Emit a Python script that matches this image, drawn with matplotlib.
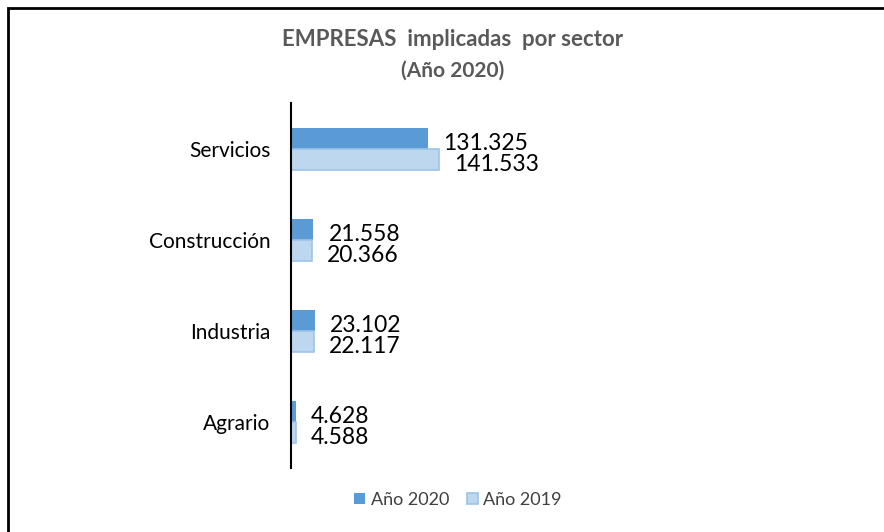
import matplotlib.pyplot as plt
from matplotlib.patches import Rectangle
import numpy as np

sectors = ["Servicios", "Construcción", "Industria", "Agrario"]
values_2020 = [131325, 21558, 23102, 4628]
values_2019 = [141533, 20366, 22117, 4588]
series_labels = ["Año 2020", "Año 2019"]

COLOR_2020 = "#5B9BD5"
COLOR_2019 = "#BDD7EE"
EDGE_2019 = "#9DC3E6"
FONT = ["Lato", "DejaVu Sans"]


def fmt(v):
    return f"{v:,}".replace(",", ".")


W, H = 884, 532
fig = plt.figure(figsize=(W / 100, H / 100), dpi=100)
plt.rcParams["font.family"] = FONT

# outer frame (only left and top visible in the reference)
fig.patches.append(Rectangle((8 / W, -0.1), 2, (H - 8) / H + 0.1, transform=fig.transFigure,
                             fill=False, edgecolor="black", linewidth=2))

ax_left, ax_right = 291, 860
ax_top, ax_bot = 103, 468
ax = fig.add_axes([ax_left / W, 1 - ax_bot / H, (ax_right - ax_left) / W, (ax_bot - ax_top) / H])

px_per_unit = (428 - 291) / 131325
ax.set_xlim(0, (ax_right - ax_left) / px_per_unit)
ax.set_ylim(3.5, -0.5)

y = np.arange(len(sectors))
h = 0.23
ax.barh(y - h / 2, values_2020, height=h, color=COLOR_2020, label=series_labels[0])
ax.barh(y + h / 2, values_2019, height=h, color=COLOR_2019, edgecolor=EDGE_2019,
        linewidth=1.2, label=series_labels[1])

off = 15 / px_per_unit
for i in range(len(sectors)):
    ax.text(values_2020[i] + off, y[i] - h / 2 + 0.055, fmt(values_2020[i]),
            va="center", ha="left", fontsize=16.5, color="black")
    ax.text(values_2019[i] + off, y[i] + h / 2 + 0.055, fmt(values_2019[i]),
            va="center", ha="left", fontsize=16.5, color="black")

ax.set_yticks(y)
ax.set_yticklabels(sectors, fontsize=15, color="black")
ax.tick_params(axis="y", length=0, pad=15)
ax.set_xticks([])
for s in ["top", "right", "bottom"]:
    ax.spines[s].set_visible(False)
ax.spines["left"].set_linewidth(1.5)
ax.spines["left"].set_color("black")

fig.text(453 / W, 1 - 39 / H, "EMPRESAS  implicadas  por sector", ha="center", va="center",
         fontsize=16, fontweight="bold", color="#595959")
fig.text(453 / W, 1 - 71 / H, "(Año 2020)", ha="center", va="center",
         fontsize=15, fontweight="bold", color="#595959")

fig.legend(loc="center", bbox_to_anchor=(458 / W, 1 - 500 / H), ncol=2, frameon=False,
           fontsize=13, handlelength=0.6, handleheight=0.6, handletextpad=0.3,
           columnspacing=1.0, labelcolor="#404040")

fig.savefig("out.png", dpi=100)
